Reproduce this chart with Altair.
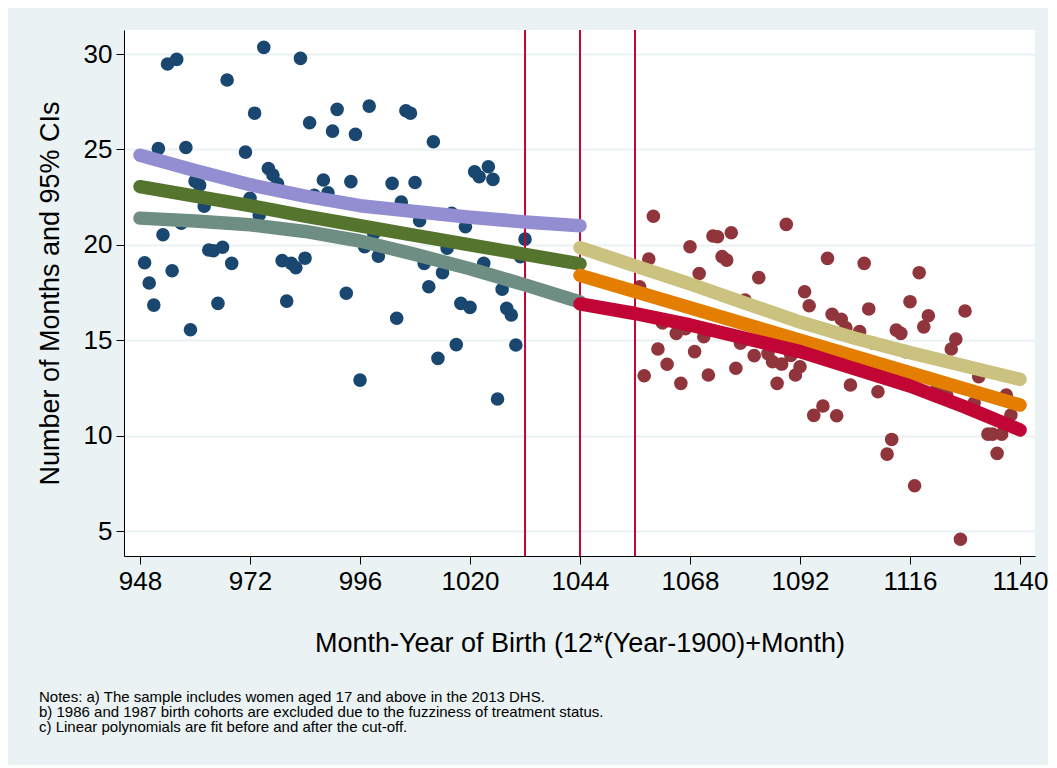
import altair as alt
import pandas as pd

# ---- data ----
pre_month = [949, 950, 951, 952, 953, 954, 955, 956, 957, 958, 959, 960, 961, 962, 963, 964, 965, 966,
             967, 968, 971, 972, 973, 974, 975, 976, 977, 978, 979, 980, 981, 982, 983, 984, 985, 986,
             988, 989, 990, 991, 993, 994, 995, 996, 997, 998, 999, 1000, 1003, 1004, 1005, 1006, 1007,
             1008, 1009, 1010, 1011, 1012, 1013, 1014, 1015, 1016, 1017, 1018, 1019, 1020, 1021, 1022,
             1023, 1024, 1025, 1026, 1027, 1028, 1029, 1030, 1031, 1032]
pre_value = [19.06, 18.0, 16.84, 25.04, 20.53, 29.48, 18.64, 29.72, 21.13, 25.1, 15.55, 23.34, 23.13,
             22.03, 19.73, 19.69, 16.93, 19.87, 28.64, 19.03, 24.86, 22.44, 26.9, 21.56, 30.35, 24.0,
             23.66, 23.2, 19.17, 17.05, 19.03, 18.8, 29.77, 19.3, 26.4, 22.6, 23.4, 22.73, 25.96, 27.1,
             17.46, 23.31, 25.79, 12.91, 19.9, 27.27, 20.6, 19.41, 23.22, 16.15, 22.24, 27.03, 26.9,
             23.27, 21.26, 19.03, 17.8, 25.4, 14.05, 18.54, 19.82, 21.65, 14.77, 16.93, 20.95, 16.72,
             23.83, 23.57, 19.03, 24.09, 23.43, 11.92, 17.67, 16.67, 16.32, 14.75, 19.38, 20.3]

post_month = [1057, 1058, 1059, 1060, 1061, 1062, 1063, 1065, 1066, 1067, 1068, 1069, 1070, 1071, 1072,
              1073, 1074, 1075, 1076, 1077, 1078, 1079, 1080, 1082, 1083, 1085, 1086, 1087, 1088, 1089,
              1090, 1091, 1092, 1093, 1094, 1095, 1097, 1098, 1099, 1100, 1101, 1102, 1103, 1105, 1106,
              1107, 1108, 1109, 1111, 1112, 1113, 1114, 1115, 1116, 1117, 1118, 1119, 1120, 1122, 1124,
              1125, 1126, 1127, 1128, 1130, 1131, 1133, 1134, 1135, 1136, 1137, 1138]
post_value = [17.8, 13.14, 19.26, 21.5, 14.54, 15.9, 13.74, 15.36, 12.74, 15.6, 19.9, 14.4, 18.5, 15.18,
              13.18, 20.46, 20.42, 19.38, 19.2, 20.63, 13.53, 14.84, 17.1, 14.19, 18.28, 14.3, 13.87,
              12.74, 13.75, 21.07, 14.2, 13.18, 13.61, 17.54, 16.81, 11.06, 11.55, 19.29, 16.36, 11.04,
              16.1, 15.65, 12.65, 15.45, 19.03, 16.64, 14.84, 12.3, 9.03, 9.8, 15.53, 15.36, 14.4, 17.02,
              7.37, 18.54, 15.7, 16.28, 12.6, 12.13, 14.54, 15.06, 4.57, 16.53, 11.72, 13.09, 10.08,
              10.08, 9.07, 10.08, 12.13, 11.08]

fit_pre_x = [948, 960, 972, 984, 996, 1008, 1020, 1032, 1044]
pre_upper = [24.7, 23.9, 23.15, 22.55, 22.05, 21.75, 21.45, 21.2, 21.0]
pre_fit = [23.05, 22.55, 22.05, 21.5, 21.0, 20.5, 20.0, 19.5, 19.0]
pre_lower = [21.4, 21.25, 21.05, 20.7, 20.2, 19.5, 18.75, 17.9, 17.0]

fit_post_x = [1044, 1056, 1068, 1080, 1092, 1104, 1116, 1128, 1140]
post_upper = [19.85, 18.9, 17.95, 16.95, 15.95, 15.1, 14.35, 13.65, 12.95]
post_fit = [18.4, 17.55, 16.7, 15.85, 15.0, 14.15, 13.3, 12.45, 11.6]
post_lower = [16.9, 16.4, 15.8, 15.1, 14.4, 13.5, 12.6, 11.5, 10.3]

cutoffs = [1032, 1044, 1056]
x_ticks = [948, 972, 996, 1020, 1044, 1068, 1092, 1116, 1140]
y_ticks = [5, 10, 15, 20, 25, 30]

notes = [
    "Notes: a) The sample includes women aged 17 and above in the 2013 DHS.",
    "b) 1986 and 1987 birth cohorts are excluded due to the fuzziness of treatment status.",
    "c) Linear polynomials are fit before and after the cut-off.",
]

# ---- tables ----
pts = pd.concat([
    pd.DataFrame({"month": pre_month, "value": pre_value, "group": "pre"}),
    pd.DataFrame({"month": post_month, "value": post_value, "group": "post"}),
])

series_names = ["pre_upper", "pre_fit", "pre_lower", "post_upper", "post_fit", "post_lower"]
series_cols = ["#938DD2", "#55752F", "#6E8E84", "#CAC27E", "#E37E00", "#C10534"]
frames = []
for name, xs, ys in [("pre_upper", fit_pre_x, pre_upper), ("pre_fit", fit_pre_x, pre_fit),
                     ("pre_lower", fit_pre_x, pre_lower), ("post_upper", fit_post_x, post_upper),
                     ("post_fit", fit_post_x, post_fit), ("post_lower", fit_post_x, post_lower)]:
    frames.append(pd.DataFrame({"month": xs, "value": ys, "series": name}))
lines = pd.concat(frames)

FONT = "Liberation Sans"
xscale = alt.Scale(domain=[944.5, 1143.27], nice=False, zero=False)
yscale = alt.Scale(domain=[3.69, 31.26], nice=False, zero=False)

xaxis = alt.Axis(values=x_ticks, title="Month-Year of Birth (12*(Year-1900)+Month)", grid=False,
                 tickSize=8, labelPadding=4, labelFontSize=26, titleFontSize=27,
                 titleFontWeight="normal", titleY=95, titleBaseline="alphabetic",
                 labelFont=FONT, titleFont=FONT, domainColor="#000000", tickColor="#000000",
                 labelColor="#000000", titleColor="#000000", format="d", labelFlush=False)
yaxis = alt.Axis(values=y_ticks, title="Number of Months and 95% CIs", grid=True,
                 gridColor="#EAF2F3", gridWidth=2, tickSize=8, labelPadding=4, labelFontSize=26,
                 titleFontSize=27, titleFontWeight="normal", titleX=-74, titleY=263,
                 titleAngle=270, titleBaseline="middle", titleAlign="center",
                 labelFont=FONT, titleFont=FONT, domainColor="#000000", tickColor="#000000",
                 labelColor="#000000", titleColor="#000000")

scatter = alt.Chart(pts).mark_circle(size=185, opacity=1).encode(
    x=alt.X("month:Q", scale=xscale, axis=xaxis),
    y=alt.Y("value:Q", scale=yscale, axis=yaxis),
    color=alt.Color("group:N", scale=alt.Scale(domain=["pre", "post"], range=["#1A476F", "#90353B"]),
                    legend=None),
)

rules = alt.Chart(pd.DataFrame({"cut": cutoffs})).mark_rule(color="#C10534", strokeWidth=2).encode(
    x=alt.X("cut:Q", scale=xscale)
)

fits = alt.Chart(lines).mark_line(strokeWidth=13.5, strokeCap="round", strokeJoin="round").encode(
    x=alt.X("month:Q", scale=xscale),
    y=alt.Y("value:Q", scale=yscale),
    color=alt.Color("series:N", scale=alt.Scale(domain=series_names, range=series_cols), legend=None),
    detail="series:N",
)

note_layer = alt.Chart(alt.Data(values=[{}])).mark_text(
    text=notes, align="left", baseline="top", fontSize=15, lineHeight=15, font=FONT, color="#000000"
).encode(x=alt.value(-85), y=alt.value(660))

chart = alt.layer(scatter, rules, fits, note_layer).properties(
    width=911, height=526,
    autosize=alt.AutoSizeParams(type="none"),
    padding={"left": 116, "top": 22, "right": 13, "bottom": 209},
    background="#EAF2F3",
).configure_view(fill="#FFFFFF", stroke=None).resolve_scale(color="independent")

chart.save("out.html", embed_options={"renderer": "svg", "actions": False})
